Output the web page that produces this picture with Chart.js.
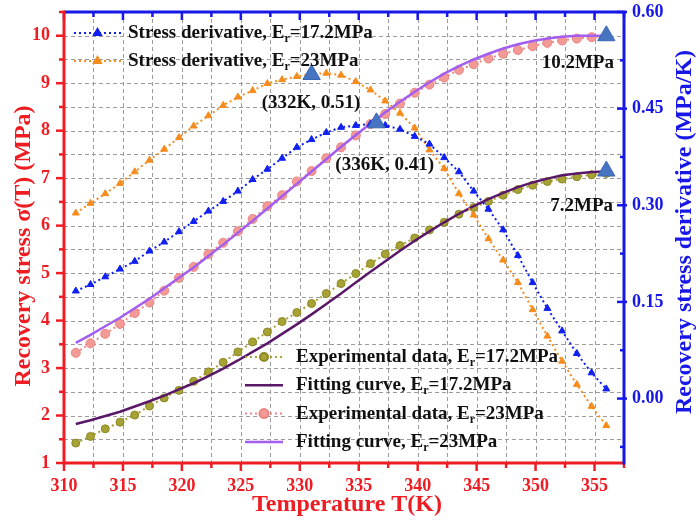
<!DOCTYPE html>
<html>
<head>
<meta charset="UTF-8">
<title>Recovery stress vs temperature</title>
<script src="https://cdn.jsdelivr.net/npm/chart.js@4"></script>
<style>
  html, body { margin: 0; padding: 0; background: #fff; }
  #wrap { width: 700px; height: 524px; }
</style>
</head>
<body>
<div id="wrap"><canvas id="chart" width="700" height="524"></canvas></div>
<script>
// temperature grid (K), shared by all series
const temps = [311, 312.25, 313.5, 314.75, 316, 317.25, 318.5, 319.75, 321, 322.25, 323.5, 324.75,
  326, 327.25, 328.5, 329.75, 331, 332.25, 333.5, 334.75, 336, 337.25, 338.5, 339.75,
  341, 342.25, 343.5, 344.75, 346, 347.25, 348.5, 349.75, 351, 352.25, 353.5, 354.75, 356];

// recovery stress (MPa), left axis
const exp172 = [1.42, 1.56, 1.72, 1.86, 2.01, 2.2, 2.37, 2.53, 2.72, 2.92, 3.12, 3.34,
  3.55, 3.76, 3.98, 4.17, 4.36, 4.57, 4.78, 4.99, 5.2, 5.4, 5.58, 5.74,
  5.91, 6.07, 6.24, 6.38, 6.51, 6.64, 6.76, 6.85, 6.93, 6.98, 7.03, 7.07, 7.1];
const fit172 = [1.82, 1.9, 1.99, 2.08, 2.19, 2.3, 2.42, 2.55, 2.68, 2.83, 2.99, 3.16,
  3.34, 3.52, 3.72, 3.92, 4.13, 4.35, 4.57, 4.8, 5.03, 5.25, 5.47, 5.68,
  5.88, 6.07, 6.25, 6.41, 6.56, 6.69, 6.81, 6.91, 6.99, 7.06, 7.1, 7.13, 7.14];
const exp23 = [3.32, 3.52, 3.72, 3.93, 4.16, 4.38, 4.63, 4.9, 5.13, 5.4, 5.64, 5.88,
  6.14, 6.41, 6.64, 6.93, 7.15, 7.42, 7.65, 7.9, 8.14, 8.35, 8.57, 8.8,
  8.97, 9.12, 9.28, 9.4, 9.52, 9.62, 9.7, 9.78, 9.85, 9.9, 9.94, 9.97, 10.0];
const fit23 = [3.53, 3.7, 3.88, 4.06, 4.26, 4.46, 4.68, 4.9, 5.12, 5.36, 5.6, 5.85,
  6.1, 6.36, 6.62, 6.88, 7.14, 7.4, 7.66, 7.91, 8.15, 8.39, 8.61, 8.82,
  9.02, 9.2, 9.36, 9.5, 9.62, 9.73, 9.82, 9.89, 9.94, 9.98, 10.0, 10.0, 10.0];

// stress derivative (MPa/K), right axis
const deriv172 = [0.167, 0.177, 0.189, 0.201, 0.213, 0.229, 0.243, 0.259, 0.275, 0.291, 0.306, 0.322,
  0.340, 0.356, 0.373, 0.390, 0.402, 0.413, 0.421, 0.424, 0.426, 0.424, 0.418, 0.407,
  0.395, 0.374, 0.352, 0.322, 0.294, 0.262, 0.222, 0.18, 0.14, 0.105, 0.07, 0.04, 0.015];
const deriv23 = [0.288, 0.303, 0.318, 0.334, 0.352, 0.37, 0.387, 0.405, 0.423, 0.439, 0.455, 0.468,
  0.478, 0.489, 0.495, 0.5, 0.504, 0.505, 0.502, 0.492, 0.479, 0.462, 0.443, 0.42,
  0.386, 0.357, 0.318, 0.285, 0.248, 0.215, 0.18, 0.138, 0.097, 0.058, 0.022, -0.012, -0.042];

// highlighted points
const peakT = [331, 336.5];
const peakD = [0.503, 0.428];
const endT = [356, 356];
const endS = [10.0, 7.15];

// annotation labels: text, T, value, axis, align
const notes = [
  ["(332K, 0.51)", 330.95, 0.459, "y1", "center"],
  ["(336K, 0.41)", 337.2, 0.363, "y1", "center"],
  ["10.2MPa", 356.65, 9.43, "y", "right"],
  ["7.2MPa", 356.57, 6.41, "y", "right"],
];

// axis ticks (major + minor)
const tempTicks = [310, 312.5, 315, 317.5, 320, 322.5, 325, 327.5, 330, 332.5, 335, 337.5,
  340, 342.5, 345, 347.5, 350, 352.5, 355, 357.5];
const stressTicks = [1, 1.5, 2, 2.5, 3, 3.5, 4, 4.5, 5, 5.5, 6, 6.5, 7, 7.5, 8, 8.5, 9, 9.5, 10, 10.5];
const derivTicks = [-0.075, 0, 0.075, 0.15, 0.225, 0.3, 0.375, 0.45, 0.525, 0.6];

const serif = '"Liberation Serif", "Times New Roman", serif';
const RED = "#ee1d23";
const BLUE = "#1717e8";

const pts = (ys) => temps.map((t, i) => ({ x: t, y: ys[i] }));
const isMajorD = (v) => Math.abs(v / 0.15 - Math.round(v / 0.15)) < 1e-6;

const datasets = [
  { label: "peaks", data: peakT.map((t, i) => ({ x: t, y: peakD[i] })), yAxisID: "y1", showLine: false,
    pointStyle: "triangle", pointRadius: 10, backgroundColor: "#4774c0", borderColor: "#3b66b3", borderWidth: 1 },
  { label: "ends", data: endT.map((t, i) => ({ x: t, y: endS[i] })), yAxisID: "y", showLine: false,
    pointStyle: "triangle", pointRadius: 10, backgroundColor: "#4774c0", borderColor: "#3b66b3", borderWidth: 1 },
  { label: "Stress derivative, E=17.2MPa", data: pts(deriv172), yAxisID: "y1",
    borderColor: "#1020f0", backgroundColor: "#1020f0", borderWidth: 2, borderDash: [2, 3],
    pointStyle: "triangle", pointRadius: 4, pointBorderWidth: 1 },
  { label: "Stress derivative, E=23MPa", data: pts(deriv23), yAxisID: "y1",
    borderColor: "#f58c1e", backgroundColor: "#f58c1e", borderWidth: 2, borderDash: [2, 3],
    pointStyle: "triangle", pointRadius: 4, pointBorderWidth: 1 },
  { label: "Fitting curve, E=17.2MPa", data: pts(fit172), yAxisID: "y",
    borderColor: "#5a1868", backgroundColor: "#5a1868", borderWidth: 2.5, pointRadius: 0 },
  { label: "Fitting curve, E=23MPa", data: pts(fit23), yAxisID: "y",
    borderColor: "#a35ef0", backgroundColor: "#a35ef0", borderWidth: 2.5, pointRadius: 0 },
  { label: "Experimental data, E=17.2MPa", data: pts(exp172), yAxisID: "y",
    borderColor: "#a6a234", backgroundColor: "#a6a234", pointBorderColor: "#8c8824", borderWidth: 2, borderDash: [2, 3],
    pointStyle: "circle", pointRadius: 4, pointBorderWidth: 1 },
  { label: "Experimental data, E=23MPa", data: pts(exp23), yAxisID: "y",
    borderColor: "#ee8a86", backgroundColor: "#f49a96", pointBorderColor: "#ea8480", borderWidth: 2, borderDash: [2, 3],
    pointStyle: "circle", pointRadius: 4.5, pointBorderWidth: 1 },
];
datasets.forEach((d) => { d.fill = false; d.tension = 0; });

// legend layout: [dataset index, text before sub, sub, text after]
const topLegend = [
  [2, "Stress derivative, E", "r", "=17.2MPa"],
  [3, "Stress derivative, E", "r", "=23MPa"],
];
const bottomLegend = [
  [6, "Experimental data, E", "r", "=17.2MPa"],
  [4, "Fitting curve, E", "r", "=17.2MPa"],
  [7, "Experimental data, E", "r", "=23MPa"],
  [5, "Fitting curve, E", "r", "=23MPa"],
];

function subText(ctx, x, y, pre, sub, post, size) {
  ctx.font = `bold ${size}px ${serif}`;
  ctx.fillText(pre, x, y);
  let w = ctx.measureText(pre).width;
  ctx.font = `bold ${Math.round(size * 0.62)}px ${serif}`;
  ctx.fillText(sub, x + w, y + size * 0.32);
  w += ctx.measureText(sub).width;
  ctx.font = `bold ${size}px ${serif}`;
  ctx.fillText(post, x + w, y);
}

function line(ctx, x1, y1, x2, y2) {
  ctx.beginPath();
  ctx.moveTo(x1, y1);
  ctx.lineTo(x2, y2);
  ctx.stroke();
}

function legendBlock(ctx, items, x0, x1, tx, y0, gap, size) {
  items.forEach((it, k) => {
    const ds = datasets[it[0]];
    const y = y0 + k * gap;
    ctx.save();
    ctx.strokeStyle = ds.borderColor;
    ctx.lineWidth = ds.borderWidth;
    ctx.setLineDash(ds.borderDash || []);
    line(ctx, x0, y, x1, y);
    ctx.setLineDash([]);
    if (ds.pointRadius > 0) {
      ctx.fillStyle = ds.backgroundColor;
      ctx.strokeStyle = ds.pointBorderColor || ds.borderColor;
      Chart.helpers.drawPoint(ctx, { pointStyle: ds.pointStyle, radius: ds.pointRadius, rotation: 0, borderWidth: 1 }, (x0 + x1) / 2, y);
    }
    ctx.restore();
    ctx.fillStyle = "#111";
    ctx.textBaseline = "middle";
    ctx.textAlign = "left";
    subText(ctx, tx, y, it[1], it[2], it[3], size);
  });
}

const gridPlugin = {
  id: "gridPlugin",
  beforeDatasetsDraw(chart) {
    const ctx = chart.ctx;
    const a = chart.chartArea;
    const sx = chart.scales.x, sy = chart.scales.y;
    ctx.save();
    ctx.strokeStyle = "#9c9c9c";
    ctx.lineWidth = 1;
    ctx.setLineDash([4, 3]);
    for (const v of tempTicks) {
      const px = Math.round(sx.getPixelForValue(v)) + 0.5;
      if (px > a.left + 2 && px < a.right - 2) line(ctx, px, a.top, px, a.bottom);
    }
    for (const v of stressTicks) {
      const py = Math.round(sy.getPixelForValue(v)) + 0.5;
      if (py > a.top + 2 && py < a.bottom - 2) line(ctx, a.left, py, a.right, py);
    }
    ctx.restore();
  },
};

const framePlugin = {
  id: "framePlugin",
  afterDatasetsDraw(chart) {
    const ctx = chart.ctx;
    const a = chart.chartArea;
    const sx = chart.scales.x, sy = chart.scales.y, sy1 = chart.scales.y1;
    ctx.save();
    ctx.setLineDash([]);
    ctx.lineWidth = 2.5;
    for (const v of tempTicks) {
      const px = sx.getPixelForValue(v);
      const len = v % 5 === 0 ? 8 : 5;
      ctx.strokeStyle = RED;
      line(ctx, px, a.bottom, px, a.bottom + len);
      ctx.strokeStyle = BLUE;
      line(ctx, px, a.top, px, a.top + len);
    }
    ctx.strokeStyle = RED;
    for (const v of stressTicks) {
      const py = sy.getPixelForValue(v);
      line(ctx, a.left - (Number.isInteger(v) ? 8 : 5), py, a.left, py);
    }
    ctx.strokeStyle = BLUE;
    for (const v of derivTicks) {
      const py = sy1.getPixelForValue(v);
      const major = isMajorD(v);
      line(ctx, a.right - (major ? 7 : 4), py, a.right + (major ? 3 : 0), py);
    }
    // axis lines
    ctx.lineWidth = 3;
    ctx.strokeStyle = BLUE; line(ctx, a.left, a.top, a.right + 1.5, a.top);
    ctx.strokeStyle = RED; line(ctx, a.left, a.top - 1.5, a.left, a.bottom + 1.5);
    line(ctx, a.left, a.bottom, a.right, a.bottom);
    ctx.strokeStyle = BLUE; line(ctx, a.right, a.top, a.right, a.bottom + 1.5);

    // legends
    legendBlock(ctx, topLegend, 74, 121, 128, 33, 28, 19);
    legendBlock(ctx, bottomLegend, 245, 283, 296, 357, 28.3, 19);

    // annotation labels
    ctx.fillStyle = "#111";
    ctx.textBaseline = "middle";
    ctx.font = `bold 19px ${serif}`;
    for (const [txt, t, v, ax, al] of notes) {
      ctx.textAlign = al;
      ctx.fillText(txt, sx.getPixelForValue(t), chart.scales[ax].getPixelForValue(v));
    }

    // axis titles
    ctx.font = `bold 24px ${serif}`;
    ctx.textAlign = "center";
    ctx.fillStyle = RED;
    ctx.fillText("Temperature T(K)", 347, 505);
    ctx.save();
    ctx.translate(24, 246);
    ctx.rotate(-Math.PI / 2);
    ctx.fillText("Recovery stress \u03c3(T) (MPa)", 0, 0);
    ctx.restore();
    ctx.fillStyle = BLUE;
    ctx.save();
    ctx.translate(685, 232);
    ctx.rotate(-Math.PI / 2);
    ctx.fillText("Recovery stress derivative (MPa/K)", 0, 0);
    ctx.restore();
    ctx.restore();
  },
};

const tickFont = { family: serif, size: 18, weight: "bold" };

// fixed axis sizes, no extra label overflow padding
const fitV = (w) => (s) => { s.width = w; s.paddingTop = 0; s.paddingBottom = 0; };

new Chart(document.getElementById("chart"), {
  type: "line",
  data: { datasets },
  plugins: [gridPlugin, framePlugin],
  options: {
    responsive: false,
    animation: false,
    layout: { padding: { top: 12, left: 0, right: 0, bottom: 0 } },
    plugins: { legend: { display: false }, tooltip: { enabled: false } },
    scales: {
      x: {
        type: "linear", min: 310, max: 357.5,
        afterBuildTicks: (s) => { s.ticks = tempTicks.map((v) => ({ value: v })); },
        ticks: { autoSkip: false, maxRotation: 0, padding: 13, color: RED, font: tickFont,
          callback: (v) => (v % 5 === 0 ? v : "") },
        grid: { display: false, drawTicks: false },
        border: { display: false },
        afterFit: (s) => { s.height = 61; s.paddingLeft = 0; s.paddingRight = 0; },
      },
      y: {
        position: "left", min: 1, max: 10.5,
        afterBuildTicks: (s) => { s.ticks = stressTicks.map((v) => ({ value: v })); },
        ticks: { autoSkip: false, padding: 14, color: RED, font: tickFont,
          callback: (v) => (Number.isInteger(v) ? v : "") },
        grid: { display: false, drawTicks: false },
        border: { display: false },
        afterFit: fitV(64),
      },
      y1: {
        position: "right", min: -0.1, max: 0.6,
        afterBuildTicks: (s) => { s.ticks = derivTicks.map((v) => ({ value: v })); },
        ticks: { autoSkip: false, padding: 8, color: BLUE, font: tickFont,
          callback: (v) => (isMajorD(v) ? v.toFixed(2) : "") },
        grid: { display: false, drawTicks: false },
        border: { display: false },
        afterFit: fitV(76),
      },
    },
  },
});
</script>
</body>
</html>
